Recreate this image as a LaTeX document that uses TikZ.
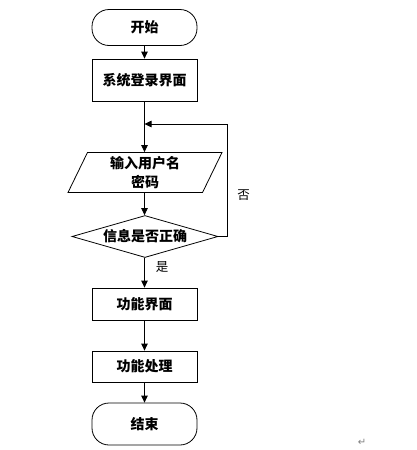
\documentclass[tikz,border=0pt]{standalone}
\usepackage{fontspec}
\newfontfamily\cjk{Noto Sans CJK SC}
\newfontfamily\symfont{DejaVu Sans}
\usetikzlibrary{shapes.geometric,arrows.meta}
\begin{document}
\begin{tikzpicture}[x=1pt,y=-1pt,
  base/.style={draw=black,line width=0.8pt,font=\cjk\bfseries\fontsize{14pt}{17pt}\selectfont,inner sep=0pt,align=center},
  term/.style={base,rectangle,rounded corners=17pt,minimum width=105pt,minimum height=36pt},
  proc/.style={base,rectangle,minimum width=105pt},
  io/.style={base,trapezium,trapezium left angle=59,trapezium right angle=121,trapezium stretches body,minimum width=154pt,minimum height=40pt},
  decide/.style={base,diamond,aspect=3.5,minimum width=146pt,minimum height=42pt},
  conn/.style={draw=black,line width=0.8pt,-{Triangle[length=7pt,width=6.5pt]}},
  lab/.style={font=\cjk\fontsize{12.5pt}{14pt}\selectfont,inner sep=0pt}]
\useasboundingbox (0,0) rectangle (417,450);
\fill[white] (0,0) rectangle (417,450);
\node[term] (start) at (144.5,27.5) {开始};
\node[proc,minimum height=42pt] (login) at (144.5,80) {系统登录界面};
\node[io] (input) at (145,172.5) {输入用户名\\[2pt]密码};
\node[decide] (check) at (145,236.5) {信息是否正确};
\node[proc,minimum height=32pt] (func) at (144.5,304) {功能界面};
\node[proc,minimum height=31pt] (proc) at (144.5,366.5) {功能处理};
\node[term,minimum height=42pt] (end) at (144.5,424) {结束};
\coordinate (join) at (144.5,124);
\coordinate (loop) at (227,124);
\draw[conn] (start) -- (login);
\draw[conn] (login.south) -- (input.north -| login.south);
\draw[conn] (input.south -| login.south) -- (check.north -| login.south);
\draw[conn] (check.east) -| (loop) -- (join);
\draw[conn] (check.south -| login.south) -- (func);
\draw[conn] (func) -- (proc);
\draw[conn] (proc) -- (end);
\node[lab] (no) at (243.5,195) {否};
\node[lab] (yes) at (162,267) {是};
\node[font=\symfont\fontsize{10pt}{11pt}\selectfont,text=gray,inner sep=0pt] (mark) at (362,442) {↵};
\end{tikzpicture}
\end{document}
